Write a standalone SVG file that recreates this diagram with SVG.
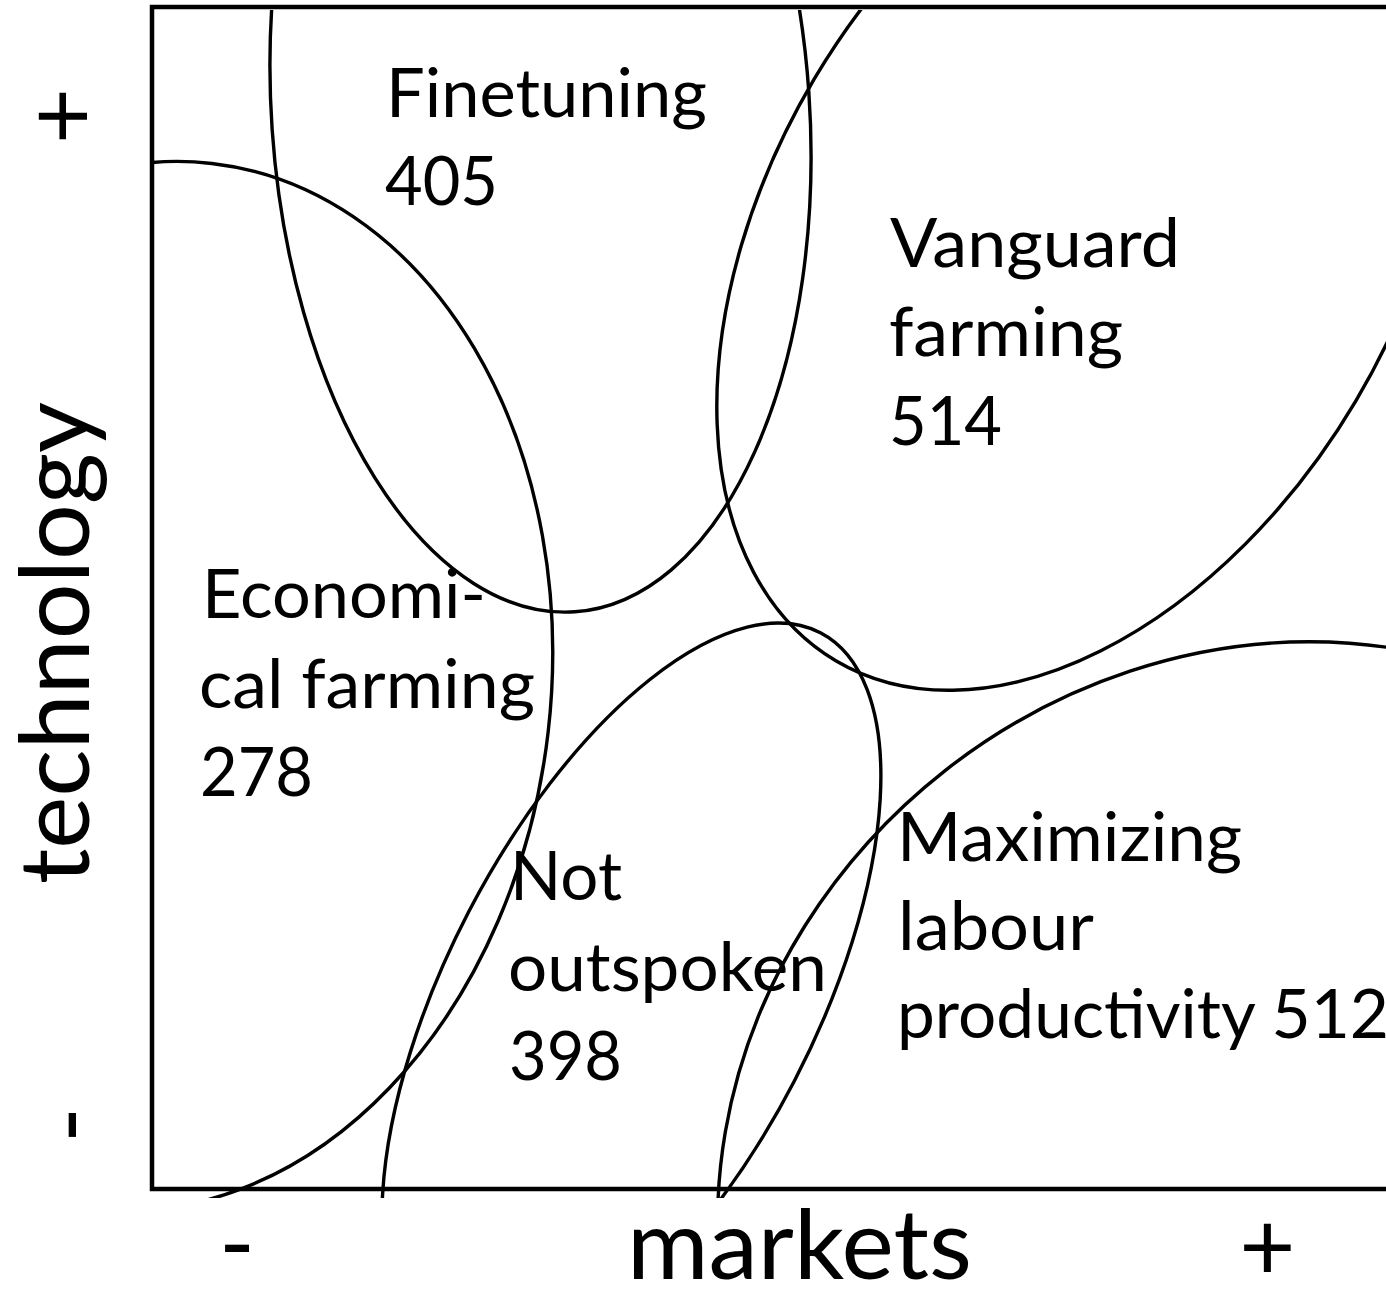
<svg xmlns="http://www.w3.org/2000/svg" width="1386" height="1293" viewBox="0 0 1386 1293">
  <style>
    .ell { fill: none; stroke: #000; stroke-width: 3.4; }
    .lbl { font-family: Lato, "Liberation Sans", sans-serif; font-size: 68px; fill: #000; }
    .ax { font-family: Lato, "Liberation Sans", sans-serif; font-size: 97px; fill: #000; }
    .frame { fill: none; stroke: #000; stroke-width: 4.5; }
  </style>
  <defs>
    <clipPath id="plot">
      <rect x="152" y="10" width="1240" height="1188"/>
    </clipPath>
  </defs>
  <rect x="0" y="0" width="1386" height="1293" fill="#fff"/>

  <g id="axes">
    <path class="frame" d="M1400,7 H152 V1189 H1400"/>
    <text class="ax" x="627" y="1279" textLength="345" lengthAdjust="spacingAndGlyphs">markets</text>
    <text class="ax" x="237" y="1277" text-anchor="middle">-</text>
    <text class="ax" x="1267.5" y="1280" text-anchor="middle">+</text>
    <text class="ax" transform="translate(89,884) rotate(-90)" textLength="482" lengthAdjust="spacingAndGlyphs">technology</text>
    <text class="ax" transform="translate(95,116) rotate(-90)" text-anchor="middle">+</text>
    <text class="ax" transform="translate(101,1125) rotate(-90)" text-anchor="middle">-</text>
  </g>

  <g id="finetuning">
    <g clip-path="url(#plot)">
      <ellipse class="ell" cx="540.5" cy="111" rx="269" ry="502" transform="rotate(-3.93 540.5 111)"/>
    </g>
    <text class="lbl" x="386" y="117" textLength="321" lengthAdjust="spacingAndGlyphs">Finetuning</text>
    <text class="lbl" x="385" y="205" textLength="113" lengthAdjust="spacingAndGlyphs">405</text>
  </g>

  <g id="economical-farming">
    <g clip-path="url(#plot)">
      <ellipse class="ell" cx="151.8" cy="686" rx="399" ry="526" transform="rotate(6.56 151.8 686)"/>
    </g>
    <text class="lbl" x="202" y="618" textLength="284" lengthAdjust="spacingAndGlyphs">Economi-</text>
    <text class="lbl" x="199" y="708" textLength="336" lengthAdjust="spacingAndGlyphs">cal farming</text>
    <text class="lbl" x="200" y="796" textLength="113" lengthAdjust="spacingAndGlyphs">278</text>
  </g>

  <g id="vanguard-farming">
    <g clip-path="url(#plot)">
      <ellipse class="ell" cx="1085" cy="240" rx="315" ry="489" transform="rotate(30.64 1085 240)"/>
    </g>
    <text class="lbl" x="890" y="267" textLength="290" lengthAdjust="spacingAndGlyphs">Vanguard</text>
    <text class="lbl" x="889" y="356" textLength="234" lengthAdjust="spacingAndGlyphs">farming</text>
    <text class="lbl" x="889" y="445" textLength="113" lengthAdjust="spacingAndGlyphs">514</text>
  </g>

  <g id="not-outspoken">
    <g clip-path="url(#plot)">
      <ellipse class="ell" cx="631.4" cy="996.6" rx="183.5" ry="410" transform="rotate(27.45 631.4 996.6)"/>
    </g>
    <text class="lbl" x="510" y="900" textLength="112" lengthAdjust="spacingAndGlyphs">Not</text>
    <text class="lbl" x="508" y="991" textLength="319" lengthAdjust="spacingAndGlyphs">outspoken</text>
    <text class="lbl" x="509" y="1080" textLength="113" lengthAdjust="spacingAndGlyphs">398</text>
  </g>

  <g id="maximizing-labour-productivity">
    <g clip-path="url(#plot)">
      <ellipse class="ell" cx="1259.6" cy="1171.4" rx="560.8" ry="509.5" transform="rotate(-38.07 1259.6 1171.4)"/>
    </g>
    <text class="lbl" x="897" y="861" textLength="345" lengthAdjust="spacingAndGlyphs">Maximizing</text>
    <text class="lbl" x="898" y="950" textLength="196" lengthAdjust="spacingAndGlyphs">labour</text>
    <text class="lbl" x="897" y="1038" textLength="492" lengthAdjust="spacingAndGlyphs">productivity 512</text>
  </g>

  <g id="connectors"/>
</svg>
